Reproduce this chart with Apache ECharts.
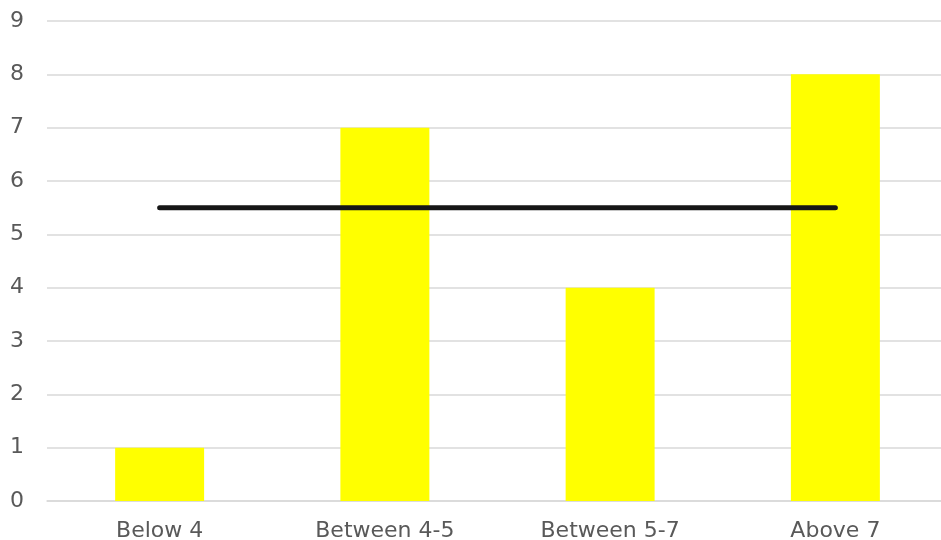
<!DOCTYPE html>
<html><head><meta charset="utf-8">
<script src="https://cdn.jsdelivr.net/npm/echarts@6/dist/echarts.min.js"></script>
<style>html,body{margin:0;padding:0;background:#fff}#c{width:941px;height:540px}</style>
</head><body><div id="c"></div>
<script>
const categories = ["Below 4", "Between 4-5", "Between 5-7", "Above 7"];
const barValues = [1, 7, 4, 8];
const lineValues = [5.5, 5.5, 5.5, 5.5];
const yTicks = [0, 1, 2, 3, 4, 5, 6, 7, 8, 9];

const chart = echarts.init(document.getElementById('c'));
chart.setOption({
  animation: false,
  grid: { left: 47, right: -7, top: 21, bottom: 39, containLabel: false, outerBoundsMode: 'none' },
  xAxis: {
    type: 'category', data: categories,
    axisLine: { show: true, lineStyle: { color: '#d9d9d9', width: 1.5 } },
    axisTick: { show: false },
    axisLabel: { color: '#595959', fontSize: 22, fontFamily: 'DejaVu Sans', margin: 19 }
  },
  yAxis: {
    type: 'value', min: yTicks[0], max: yTicks[yTicks.length - 1], interval: 1,
    axisLine: { show: false }, axisTick: { show: false },
    splitLine: { lineStyle: { color: '#d9d9d9', width: 1.5 } },
    axisLabel: { color: '#595959', fontSize: 22, fontFamily: 'DejaVu Sans', margin: 23 }
  },
  series: [
    { type: 'bar', data: barValues, barWidth: '39.5%', itemStyle: { color: '#ffff00' } },
    { type: 'line', data: lineValues, symbol: 'none', lineStyle: { color: '#161616', width: 5, cap: 'round' }, z: 5 }
  ]
});
</script></body></html>
